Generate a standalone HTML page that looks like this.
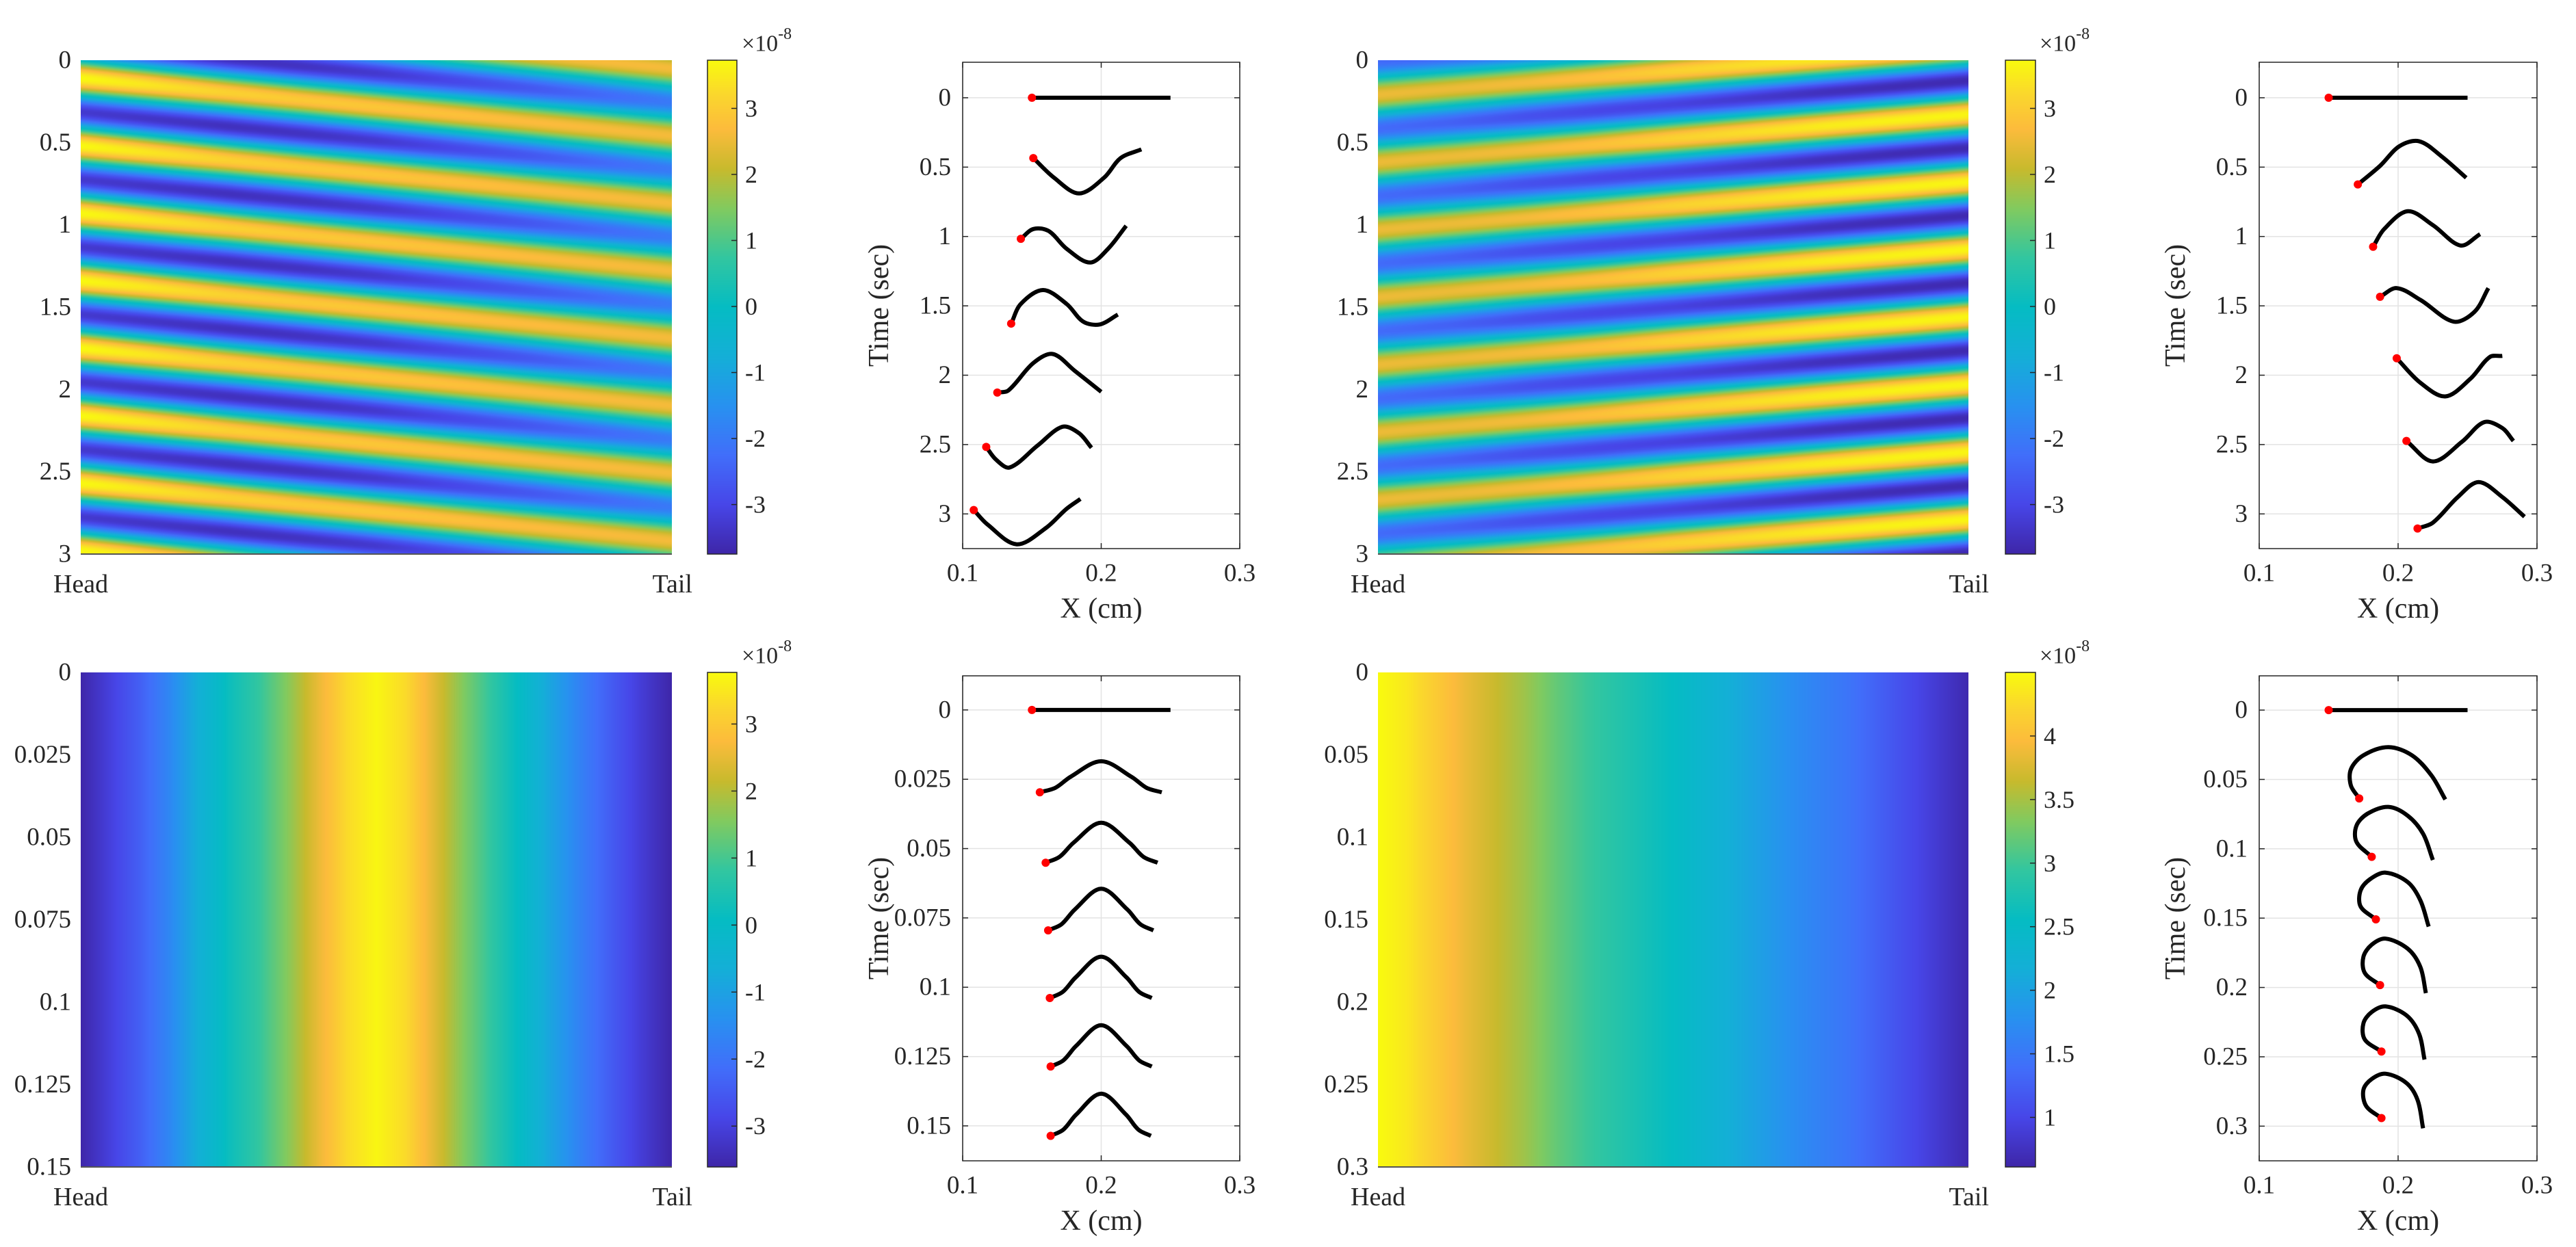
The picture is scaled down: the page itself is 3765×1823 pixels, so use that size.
<!DOCTYPE html>
<html><head><meta charset="utf-8">
<style>
html,body{margin:0;padding:0;background:#fff;}
#root{position:relative;width:3765px;height:1823px;overflow:hidden;background:#fff;}
canvas{position:absolute;}
svg{position:absolute;left:0;top:0;}
text{font-family:"Liberation Serif","DejaVu Serif",serif;fill:#262626;}
</style></head>
<body>
<div id="root">
<svg id="svg" width="3765" height="1823" xmlns="http://www.w3.org/2000/svg"></svg>
</div>
<script>
// ---------- DATA ----------
const bodyPos9 = [0,0.125,0.25,0.375,0.5,0.625,0.75,0.875,1];
const aAmp = [3.5,3.4,3.3,3.2,3.1,2.9,2.7,2.5,2.3];
const aOff = [0.2,0,-0.2,-0.25,-0.2,-0.1,0,0.15,0.3];
const aLag = [0,0.106,0.212,0.319,0.425,0.531,0.638,0.744,0.85];
const aPeriod = 0.41, aT0 = 0.11;
const cAmp = [2.4,2.5,2.7,2.9,3.1,3.3,3.5,3.6,3.65];
const cOff = [0.1,0,-0.1,-0.1,0,0,0,0,0];
const cLag = [0,-0.089,-0.178,-0.266,-0.355,-0.444,-0.533,-0.621,-0.71];
const cPeriod = 0.41, cT0 = 0.21;
const bodyPos21 = [0,0.05,0.1,0.15,0.2,0.25,0.3,0.35,0.4,0.45,0.5,0.55,0.6,0.65,0.7,0.75,0.8,0.85,0.9,0.95,1];
const eProfile = [-3.6,-3.0,-2.4,-1.6,-0.6,0.2,0.8,1.6,2.5,3.3,3.7,3.3,2.4,1.5,0.7,-0.1,-1.0,-1.8,-2.5,-3.1,-3.6];
const fProfile = [4.5,4.35,4.1,3.85,3.65,3.45,3.2,3.0,2.85,2.7,2.55,2.35,2.15,1.95,1.75,1.6,1.45,1.25,1.05,0.85,0.65];
const cbA = [-3.75,3.73], cbC = [-3.75,3.73], cbE = [-3.61,3.77], cbF = [0.61,4.5];
const cbTicksSym = [-3,-2,-1,0,1,2,3];
const cbTicksF = [1,1.5,2,2.5,3,3.5,4];
const heatTicksLong = [0,0.5,1,1.5,2,2.5,3];
const heatTickLabelsLong = ["0","0.5","1","1.5","2","2.5","3"];
const heatTicksE = [0,0.025,0.05,0.075,0.1,0.125,0.15];
const heatTickLabelsE = ["0","0.025","0.05","0.075","0.1","0.125","0.15"];
const heatTicksF = [0,0.05,0.1,0.15,0.2,0.25,0.3];
const heatTickLabelsF = ["0","0.05","0.1","0.15","0.2","0.25","0.3"];
const framesB = [
 [[0.15,0],[0.25,0]],
 [[0.151,0.435],[0.166,0.577],[0.184,0.69],[0.202,0.577],[0.214,0.435],[0.229,0.372]],
 [[0.142,1.017],[0.151,0.946],[0.162,0.96],[0.175,1.088],[0.192,1.188],[0.205,1.088],[0.218,0.923]],
 [[0.135,1.628],[0.142,1.486],[0.158,1.386],[0.175,1.486],[0.187,1.614],[0.199,1.634],[0.212,1.563]],
 [[0.125,2.125],[0.133,2.11],[0.151,1.912],[0.165,1.847],[0.181,1.969],[0.2,2.12]],
 [[0.117,2.517],[0.124,2.608],[0.134,2.665],[0.154,2.508],[0.172,2.372],[0.184,2.418],[0.193,2.523]],
 [[0.108,2.972],[0.118,3.077],[0.139,3.219],[0.16,3.102],[0.175,2.963],[0.185,2.892]]
];
const framesD = [
 [[0.15,0],[0.25,0]],
 [[0.171,0.625],[0.187,0.491],[0.201,0.349],[0.215,0.313],[0.231,0.42],[0.249,0.577]],
 [[0.182,1.074],[0.19,0.946],[0.207,0.818],[0.225,0.918],[0.245,1.065],[0.259,0.983]],
 [[0.187,1.435],[0.199,1.372],[0.216,1.457],[0.24,1.614],[0.255,1.543],[0.265,1.372]],
 [[0.199,1.878],[0.216,2.054],[0.234,2.153],[0.252,2.026],[0.266,1.869],[0.275,1.861]],
 [[0.206,2.474],[0.225,2.622],[0.246,2.48],[0.262,2.338],[0.275,2.381],[0.283,2.474]],
 [[0.214,3.105],[0.225,3.063],[0.243,2.878],[0.258,2.77],[0.275,2.878],[0.291,3.02]]
];
const framesE = [
 [[0.15,0],[0.25,0]],
 [[0.1557,0.0297],[0.1668,0.0281],[0.1779,0.0241],[0.2,0.0185],[0.2218,0.0241],[0.2328,0.0281],[0.2437,0.0297]],
 [[0.1599,0.0551],[0.1699,0.0530],[0.1800,0.0479],[0.2,0.0407],[0.2204,0.0479],[0.2305,0.0530],[0.2407,0.0551]],
 [[0.1617,0.0795],[0.1713,0.0773],[0.1809,0.0720],[0.2,0.0645],[0.2189,0.0720],[0.2283,0.0773],[0.2377,0.0795]],
 [[0.1629,0.1039],[0.1722,0.1017],[0.1815,0.0965],[0.2,0.0890],[0.2183,0.0965],[0.2274,0.1017],[0.2365,0.1039]],
 [[0.1635,0.1286],[0.1726,0.1264],[0.1818,0.1212],[0.2,0.1137],[0.2183,0.1212],[0.2274,0.1264],[0.2365,0.1286]],
 [[0.1635,0.1536],[0.1726,0.1514],[0.1818,0.1460],[0.2,0.1384],[0.2180,0.1460],[0.2269,0.1514],[0.2359,0.1536]]
];
const framesG = [
 [[0.15,0],[0.25,0]],
 [[0.172,0.0637],[0.166,0.0544],[0.166,0.0427],[0.175,0.0326],[0.193,0.0267],[0.21,0.0326],[0.224,0.0471],[0.234,0.0645]],
 [[0.181,0.1058],[0.170,0.095],[0.170,0.0834],[0.178,0.0747],[0.193,0.0698],[0.207,0.0762],[0.218,0.0892],[0.225,0.1081]],
 [[0.184,0.1509],[0.173,0.1416],[0.173,0.13],[0.18,0.1218],[0.191,0.1172],[0.207,0.1241],[0.216,0.1372],[0.222,0.1561]],
 [[0.187,0.1983],[0.176,0.1895],[0.175,0.1779],[0.181,0.1692],[0.191,0.1648],[0.207,0.1721],[0.216,0.1852],[0.220,0.2041]],
 [[0.188,0.2462],[0.176,0.2375],[0.175,0.2259],[0.181,0.2177],[0.191,0.2137],[0.206,0.2201],[0.215,0.2331],[0.219,0.252]],
 [[0.188,0.2942],[0.177,0.2855],[0.175,0.2738],[0.181,0.266],[0.191,0.2622],[0.206,0.2689],[0.214,0.2811],[0.218,0.3015]]
];
const lineXTicks = [0.1,0.2,0.3];
const lineXTickLabels = ["0.1","0.2","0.3"];
const lineYTicksLong = [0,0.5,1,1.5,2,2.5,3];
const lineYTickLabelsLong = ["0","0.5","1","1.5","2","2.5","3"];
const lineYTicksE = [0,0.025,0.05,0.075,0.1,0.125,0.15];
const lineYTickLabelsE = ["0","0.025","0.05","0.075","0.1","0.125","0.15"];
const lineYTicksG = [0,0.05,0.1,0.15,0.2,0.25,0.3];
const lineYTickLabelsG = ["0","0.05","0.1","0.15","0.2","0.25","0.3"];

// ---------- HELPERS ----------
const NS = "http://www.w3.org/2000/svg";
const svg = document.getElementById('svg');
const root = document.getElementById('root');
function mk(tag, attrs, parent){
  const e = document.createElementNS(NS, tag);
  for (const k in attrs) e.setAttribute(k, attrs[k]);
  (parent||svg).appendChild(e);
  return e;
}
const PAR = [[0,62,38,168],[0.1,71,70,232],[0.2,65,110,250],[0.3,40,145,240],[0.4,20,175,215],[0.5,5,188,195],[0.6,50,198,160],[0.7,130,202,95],[0.78,200,186,45],[0.86,252,187,60],[0.93,250,215,45],[1,249,251,14]];
function parula(t){
  t = Math.max(0, Math.min(1, t));
  for (let i=1;i<PAR.length;i++){
    if (t <= PAR[i][0]){
      const a=PAR[i-1], b=PAR[i], f=(t-a[0])/(b[0]-a[0]);
      return [a[1]+(b[1]-a[1])*f, a[2]+(b[2]-a[2])*f, a[3]+(b[3]-a[3])*f];
    }
  }
  return [249,251,14];
}
function interp(xs, ys, x){
  if (x<=xs[0]) return ys[0];
  for (let i=1;i<xs.length;i++){
    if (x<=xs[i]){ const f=(x-xs[i-1])/(xs[i]-xs[i-1]); return ys[i-1]+(ys[i]-ys[i-1])*f; }
  }
  return ys[ys.length-1];
}
function text(x,y,str,size,anchor,name,extra){
  const t = mk('text', Object.assign({x:x,y:y,'font-size':size,'text-anchor':anchor||'middle','dominant-baseline':'central'}, extra||{}));
  t.textContent = str;
  
  
  return t;
}

function heatmap(box, tMax, valueFn, range, yTicks, yLabels, cb, cbTicks, name){
  const w = box.x1-box.x0, h = box.y1-box.y0;
  const cv = document.createElement('canvas');
  cv.width = w; cv.height = h;
  cv.style.left = box.x0+'px'; cv.style.top = box.y0+'px';
  
  
  root.insertBefore(cv, svg);
  const ctx = cv.getContext('2d');
  const img = ctx.createImageData(w, h);
  for (let j=0;j<h;j++){
    const t = (j+0.5)/h*tMax;
    for (let i=0;i<w;i++){
      const s = (i+0.5)/w;
      const v = valueFn(t, s);
      const c = parula((v-range[0])/(range[1]-range[0]));
      const k = (j*w+i)*4;
      img.data[k]=c[0]; img.data[k+1]=c[1]; img.data[k+2]=c[2]; img.data[k+3]=255;
    }
  }
  ctx.putImageData(img,0,0);
  mk('line',{x1:box.x0,y1:box.y1,x2:box.x1,y2:box.y1,stroke:'#555',"stroke-width":2});
  yTicks.forEach((tv,i)=>{
    const y = box.y0 + tv/tMax*h;
    text(box.x0-14, y, yLabels[i], 37, 'end', name+'-y-tick-label');
  });
  text(box.x0-40, box.y1+44, 'Head', 38, 'start', name+'-head-label');
  text(box.x1+30, box.y1+44, 'Tail', 38, 'end', name+'-tail-label');
  const cw = cb.x1-cb.x0, ch = box.y1-box.y0;
  const cc = document.createElement('canvas');
  cc.width = cw; cc.height = ch;
  cc.style.left = cb.x0+'px'; cc.style.top = box.y0+'px';
  
  
  root.insertBefore(cc, svg);
  const c2 = cc.getContext('2d');
  for (let j=0;j<ch;j++){
    const c = parula(1-(j+0.5)/ch);
    c2.fillStyle = 'rgb('+Math.round(c[0])+','+Math.round(c[1])+','+Math.round(c[2])+')';
    c2.fillRect(0,j,cw,1);
  }
  mk('rect',{x:cb.x0,y:box.y0,width:cw,height:ch,fill:'none',stroke:'#262626','stroke-width':1.5});
  const cy = v => box.y1 - (v-range[0])/(range[1]-range[0])*ch;
  cbTicks.forEach(v=>{
    const y = cy(v);
    mk('line',{x1:cb.x1-8,y1:y,x2:cb.x1,y2:y,stroke:'#262626','stroke-width':1.5});
    text(cb.x1+12, y, String(v), 36, 'start', name+'-colorbar-tick-label');
  });
  const ex = text(cb.x0+50, box.y0-24, '×10', 34, 'start', name+'-colorbar-exponent');
  const sup = mk('tspan',{dy:-14,'font-size':24}, ex);
  sup.textContent = '-8';
}

function smoothPath(pts){
  if (pts.length===2) return 'M'+pts[0][0]+','+pts[0][1]+' L'+pts[1][0]+','+pts[1][1];
  const dist=(a,b)=>Math.hypot(b[0]-a[0],b[1]-a[1])||1e-6;
  let d = 'M'+pts[0][0].toFixed(1)+','+pts[0][1].toFixed(1);
  const n = pts.length;
  const tang = i => {
    if (i===0) return [(pts[1][0]-pts[0][0]), (pts[1][1]-pts[0][1])];
    if (i===n-1) return [(pts[n-1][0]-pts[n-2][0]), (pts[n-1][1]-pts[n-2][1])];
    return null;
  };
  for (let i=0;i<n-1;i++){
    const p0=pts[Math.max(0,i-1)], p1=pts[i], p2=pts[i+1], p3=pts[Math.min(n-1,i+2)];
    const d01=dist(p0,p1), d12=dist(p1,p2), d23=dist(p2,p3);
    let m1 = (i===0) ? tang(0) : [(p2[0]-p0[0])*d12/(d01+d12),(p2[1]-p0[1])*d12/(d01+d12)];
    let m2 = (i+1===n-1) ? tang(n-1) : [(p3[0]-p1[0])*d12/(d12+d23),(p3[1]-p1[1])*d12/(d12+d23)];
    const c1=[p1[0]+m1[0]/3, p1[1]+m1[1]/3];
    const c2=[p2[0]-m2[0]/3, p2[1]-m2[1]/3];
    d += ' C'+c1[0].toFixed(1)+','+c1[1].toFixed(1)+' '+c2[0].toFixed(1)+','+c2[1].toFixed(1)+' '+p2[0].toFixed(1)+','+p2[1].toFixed(1);
  }
  return d;
}

function linePanel(box, ylim, yTicks, yLabels, frames, name){
  const X = v => box.x0 + (v-0.1)/0.2*(box.x1-box.x0);
  const Y = v => box.y0 + (v-ylim[0])/(ylim[1]-ylim[0])*(box.y1-box.y0);
  const g = mk('g',{});
  
  
  mk('rect',{x:box.x0,y:box.y0,width:box.x1-box.x0,height:box.y1-box.y0,fill:'#fff'}, g);
  lineXTicks.forEach((v,i)=>{
    const x = X(v);
    mk('line',{x1:x,y1:box.y0,x2:x,y2:box.y1,stroke:'#e3e3e3','stroke-width':1.5}, g);
    mk('line',{x1:x,y1:box.y1,x2:x,y2:box.y1-8,stroke:'#262626','stroke-width':1.5}, g);
    mk('line',{x1:x,y1:box.y0,x2:x,y2:box.y0+8,stroke:'#262626','stroke-width':1.5}, g);
    text(x, box.y1+36, lineXTickLabels[i], 37, 'middle', name+'-x-tick-label');
  });
  yTicks.forEach((v,i)=>{
    const y = Y(v);
    mk('line',{x1:box.x0,y1:y,x2:box.x1,y2:y,stroke:'#e3e3e3','stroke-width':1.5}, g);
    mk('line',{x1:box.x0,y1:y,x2:box.x0+8,y2:y,stroke:'#262626','stroke-width':1.5}, g);
    mk('line',{x1:box.x1,y1:y,x2:box.x1-8,y2:y,stroke:'#262626','stroke-width':1.5}, g);
    text(box.x0-17, y, yLabels[i], 37, 'end', name+'-y-tick-label');
  });
  mk('rect',{x:box.x0,y:box.y0,width:box.x1-box.x0,height:box.y1-box.y0,fill:'none',stroke:'#262626','stroke-width':1.5}, g);
  frames.forEach((f,k)=>{
    const pts = f.map(p=>[X(p[0]),Y(p[1])]);
    const p = mk('path',{d:smoothPath(pts),fill:'none',stroke:'#000','stroke-width':6,'stroke-linecap':'butt','stroke-linejoin':'round'}, g);
    
    
    const c = mk('circle',{cx:pts[0][0],cy:pts[0][1],r:6,fill:'#ff0000'}, g);
    
    
  });
  const cx = (box.x0+box.x1)/2;
  text(cx, box.y1+88, 'X (cm)', 42, 'middle', name+'-x-axis-title');
  const ty = (box.y0+box.y1)/2;
  text(box.x0-122, ty, 'Time (sec)', 42, 'middle', name+'-y-axis-title', {transform:'rotate(-90 '+(box.x0-122)+' '+ty+')'});
}

// ---------- BUILD ----------
heatmap({x0:118,x1:982,y0:88,y1:810}, 3,
  (t,s)=>interp(bodyPos9,aOff,s)+interp(bodyPos9,aAmp,s)*Math.cos(2*Math.PI*((t-aT0)/aPeriod-interp(bodyPos9,aLag,s))),
  cbA, heatTicksLong, heatTickLabelsLong, {x0:1034,x1:1077}, cbTicksSym, 'panel-a');
heatmap({x0:2014,x1:2877,y0:88,y1:810}, 3,
  (t,s)=>interp(bodyPos9,cOff,s)+interp(bodyPos9,cAmp,s)*Math.cos(2*Math.PI*((t-cT0)/cPeriod-interp(bodyPos9,cLag,s))),
  cbC, heatTicksLong, heatTickLabelsLong, {x0:2931,x1:2975}, cbTicksSym, 'panel-c');
heatmap({x0:118,x1:982,y0:983,y1:1706}, 0.15,
  (t,s)=>interp(bodyPos21,eProfile,s),
  cbE, heatTicksE, heatTickLabelsE, {x0:1034,x1:1077}, cbTicksSym, 'panel-e');
heatmap({x0:2014,x1:2877,y0:983,y1:1706}, 0.3,
  (t,s)=>interp(bodyPos21,fProfile,s),
  cbF, heatTicksF, heatTickLabelsF, {x0:2931,x1:2975}, cbTicksF, 'panel-f');

linePanel({x0:1407,x1:1812,y0:91,y1:802}, [-0.256,3.25], lineYTicksLong, lineYTickLabelsLong, framesB, 'panel-b');
linePanel({x0:3302,x1:3708,y0:91,y1:802}, [-0.256,3.25], lineYTicksLong, lineYTickLabelsLong, framesD, 'panel-d');
linePanel({x0:1407,x1:1812,y0:988,y1:1697}, [-0.0123,0.1626], lineYTicksE, lineYTickLabelsE, framesE, 'panel-e-lines');
linePanel({x0:3302,x1:3708,y0:988,y1:1697}, [-0.0247,0.325], lineYTicksG, lineYTickLabelsG, framesG, 'panel-g');
</script>
</body></html>
